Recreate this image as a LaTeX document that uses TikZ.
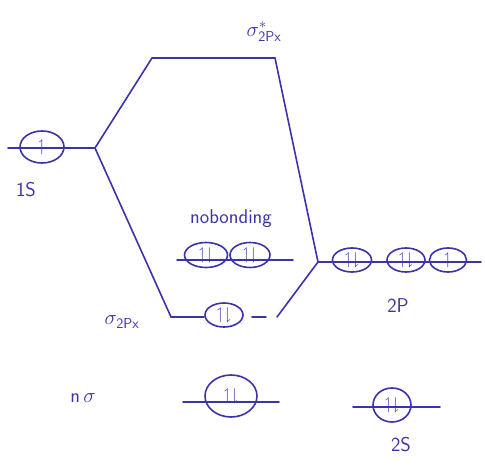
\documentclass[tikz,border=0pt]{standalone}
\usepackage{amssymb}
\usetikzlibrary{shapes.geometric}
\definecolor{ink}{RGB}{58,52,168}
\tikzset{
  lvl/.style={draw=ink, line width=1.6pt, line cap=round},
  orb/.style={ellipse, draw=ink, line width=1.6pt, inner sep=0pt, text=ink, font=\fontsize{17}{19}\selectfont\boldmath},
  lbl/.style={text=ink, font=\fontsize{20}{22}\selectfont\sffamily}
}
\newcommand{\ud}{$\upharpoonleft\downharpoonright$}
\newcommand{\uo}{$\upharpoonleft$}
\begin{document}
\begin{tikzpicture}[x=1pt,y=-1pt]
\useasboundingbox (0,0) rectangle (485,471);
% junction and corner coordinates
\coordinate (j1) at (95,148);
\coordinate (j2) at (318,262);
\coordinate (tl) at (152,58);
\coordinate (tr) at (275,58);
\coordinate (bl) at (171,317);
\coordinate (bm1) at (204,317);
\coordinate (bm2) at (252,317);
\coordinate (bm3) at (266,317);
\coordinate (br) at (277,317);
\coordinate (s1L) at (8,148);
\coordinate (nbL) at (177,260);
\coordinate (nbR) at (293,260);
\coordinate (p2R) at (481,262);
\coordinate (nsL) at (183,402);
\coordinate (nsR) at (279,402);
\coordinate (s2L) at (353,407);
\coordinate (s2R) at (440,407);
% levels and correlation lines
\draw[lvl] (s1L) -- (j1);
\draw[lvl] (j1) -- (tl) -- (tr) -- (j2);
\draw[lvl] (j1) -- (bl) -- (bm1);
\draw[lvl] (bm2) -- (bm3);
\draw[lvl] (br) -- (j2);
\draw[lvl] (nbL) -- (nbR);
\draw[lvl] (j2) -- (p2R);
\draw[lvl] (nsL) -- (nsR);
\draw[lvl] (s2L) -- (s2R);
% orbitals
\node[orb, minimum width=44pt, minimum height=32pt] (o1s) at (42,147) {\uo};
\node[orb, minimum width=43pt, minimum height=25pt] (nb1) at (206,255) {\ud};
\node[orb, minimum width=40pt, minimum height=25pt] (nb2) at (250,255) {\ud};
\node[orb, minimum width=39pt, minimum height=24pt] (p1) at (352,260) {\ud};
\node[orb, minimum width=38pt, minimum height=24pt] (p2) at (406,260) {\ud};
\node[orb, minimum width=37pt, minimum height=24pt] (p3) at (448,260) {\uo};
\node[orb, minimum width=38pt, minimum height=24pt] (sb) at (224,315) {\ud};
\node[orb, minimum width=52pt, minimum height=42pt] (ns) at (231,396) {\ud};
\node[orb, minimum width=38pt, minimum height=34pt] (s2) at (392,405) {\ud};
% labels
\node[lbl] (tsa) at (264,32) {$\sigma^{*}_{\mathsf{2Px}}$};
\node[lbl] (t1s) at (26,190) {1S};
\node[lbl] (tnb) at (231,219) {nobonding};
\node[lbl] (t2p) at (398,306) {2P};
\node[lbl] (tsb) at (122,322) {$\sigma_{\mathsf{2Px}}$};
\node[lbl] (tns) at (83,398) {n\,$\sigma$};
\node[lbl] (t2s) at (401,445) {2S};
\end{tikzpicture}
\end{document}
